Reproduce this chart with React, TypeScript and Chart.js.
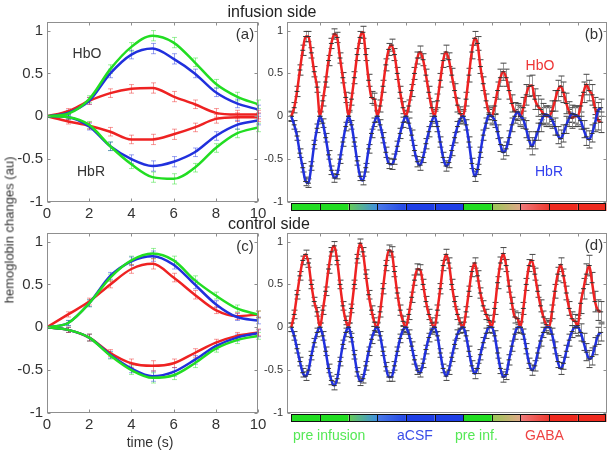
import React, { useEffect, useRef } from 'react';
import { Chart, registerables } from 'chart.js';
Chart.register(...registerables);

const FONT = '"Liberation Sans", Arial, Helvetica, sans-serif';

// ---------- panels (a) and (c): averaged responses, time 0..10 s ----------
const aTime = [0, 1, 2, 3, 4, 5, 6, 7, 8, 9, 10];
const aTicks = [0, 2, 4, 6, 8, 10];
const yTicks = [-1, -0.5, 0, 0.5, 1];

const aGreenO = [0, 0.03, 0.2, 0.55, 0.81, 0.94, 0.86, 0.63, 0.38, 0.23, 0.14];
const aBlueO = [0, 0.04, 0.18, 0.5, 0.72, 0.79, 0.67, 0.5, 0.28, 0.15, 0.08];
const aRedO = [0, 0.06, 0.18, 0.27, 0.32, 0.33, 0.23, 0.14, 0.04, 0.02, 0.02];
const aRedR = [0, -0.06, -0.11, -0.18, -0.27, -0.27, -0.21, -0.13, -0.03, -0.01, -0.01];
const aBlueR = [0, -0.01, -0.12, -0.35, -0.5, -0.58, -0.53, -0.42, -0.23, -0.1, -0.05];
const aGreenR = [0, -0.01, -0.1, -0.35, -0.56, -0.71, -0.73, -0.6, -0.37, -0.2, -0.13];
const aErr = [0, 0.03, 0.04, 0.05, 0.05, 0.06, 0.06, 0.05, 0.05, 0.05, 0.05];

const cGreenO = [0, 0.05, 0.28, 0.58, 0.78, 0.86, 0.78, 0.55, 0.37, 0.22, 0.15];
const cBlueO = [0, 0.05, 0.28, 0.6, 0.77, 0.83, 0.73, 0.5, 0.27, 0.12, 0.08];
const cRedO = [0, 0.15, 0.3, 0.5, 0.68, 0.74, 0.58, 0.38, 0.2, 0.13, 0.15];
const cRedR = [0, -0.03, -0.12, -0.3, -0.42, -0.45, -0.42, -0.3, -0.18, -0.1, -0.06];
const cBlueR = [0, -0.03, -0.12, -0.32, -0.48, -0.57, -0.52, -0.38, -0.22, -0.12, -0.07];
const cGreenR = [0, -0.03, -0.12, -0.33, -0.5, -0.59, -0.56, -0.42, -0.25, -0.15, -0.1];
const cErr = [0, 0.03, 0.04, 0.04, 0.05, 0.06, 0.05, 0.05, 0.04, 0.04, 0.04];

// ---------- panels (b) and (d): 11 consecutive trials, 1 sample / s ----------
const segEdges = [0, 10, 20, 30, 40, 50, 60, 70, 80, 90, 100, 110];
const segColorStart = ['#22dd22', '#22dd22', '#66cc55', '#4a7ae8', '#1e3fe6', '#1e3fe6', '#22dd22', '#99c855', '#ee7a7a', '#ee2a1e', '#ee2a1e'];
const segColorEnd = ['#22dd22', '#22dd22', '#3f8fe0', '#2448e6', '#1e3fe6', '#1e3fe6', '#22dd22', '#e0a888', '#ee3a30', '#ee2a1e', '#ee2a1e'];

const bHbO = [
  0, 0.1, 0.29, 0.54, 0.77, 0.93, 0.93, 0.74, 0.52, 0.34,
  0, 0.18, 0.4, 0.65, 0.85, 0.96, 0.92, 0.68, 0.45, 0.22,
  0, 0.2, 0.45, 0.72, 0.92, 0.98, 0.72, 0.42, 0.22, 0.2,
  0, 0.12, 0.35, 0.6, 0.78, 0.83, 0.72, 0.5, 0.28, 0.1,
  0, 0.12, 0.3, 0.5, 0.68, 0.75, 0.66, 0.48, 0.28, 0.1,
  0, 0.18, 0.42, 0.65, 0.75, 0.66, 0.48, 0.3, 0.13, 0.03,
  0, 0.2, 0.48, 0.75, 0.91, 0.85, 0.58, 0.38, 0.18, 0.04,
  0, 0.12, 0.3, 0.45, 0.52, 0.45, 0.3, 0.15, 0.06, 0.05,
  0, 0.1, 0.25, 0.35, 0.36, 0.2, 0.12, 0.08, 0.03, 0.0,
  0, 0.06, 0.18, 0.3, 0.35, 0.28, 0.15, 0.05, -0.02, 0.0,
  0, 0.12, 0.28, 0.37, 0.3, 0.25, 0.1, -0.04, -0.07,
];
const bHbR = [
  0, -0.1, -0.23, -0.43, -0.6, -0.76, -0.78, -0.58, -0.33, -0.14,
  0, -0.08, -0.25, -0.45, -0.63, -0.72, -0.68, -0.5, -0.3, -0.12,
  0, -0.1, -0.3, -0.52, -0.7, -0.75, -0.6, -0.38, -0.2, -0.07,
  0, -0.1, -0.25, -0.42, -0.55, -0.56, -0.5, -0.35, -0.2, -0.07,
  0, -0.08, -0.22, -0.4, -0.53, -0.57, -0.48, -0.32, -0.18, -0.06,
  0, -0.12, -0.3, -0.48, -0.58, -0.54, -0.4, -0.25, -0.12, -0.03,
  0, -0.1, -0.3, -0.55, -0.7, -0.62, -0.42, -0.22, -0.08, 0.02,
  0, -0.05, -0.18, -0.33, -0.42, -0.38, -0.25, -0.1, 0.0, 0.05,
  0, -0.04, -0.15, -0.28, -0.35, -0.28, -0.18, -0.08, 0.0, 0.02,
  0, -0.04, -0.12, -0.22, -0.26, -0.2, -0.1, -0.02, 0.03, 0.02,
  0, -0.05, -0.15, -0.24, -0.27, -0.2, -0.08, 0.06, 0.1,
];
const bErrO = [0.06, 0.06, 0.07, 0.07, 0.07, 0.08, 0.08, 0.1, 0.12, 0.12, 0.12];
const bErrR = [0.05, 0.05, 0.05, 0.06, 0.06, 0.06, 0.06, 0.08, 0.1, 0.1, 0.1];

const dHbO = [
  0, 0.15, 0.38, 0.6, 0.78, 0.85, 0.75, 0.5, 0.3, 0.18,
  0, 0.2, 0.42, 0.68, 0.88, 0.95, 0.78, 0.5, 0.25, 0.08,
  0, 0.22, 0.5, 0.8, 0.98, 0.88, 0.62, 0.38, 0.2, 0.06,
  0, 0.18, 0.45, 0.72, 0.9, 0.88, 0.65, 0.4, 0.2, 0.07,
  0, 0.15, 0.35, 0.55, 0.68, 0.67, 0.5, 0.3, 0.15, 0.05,
  0, 0.2, 0.45, 0.72, 0.85, 0.75, 0.5, 0.3, 0.15, 0.05,
  0, 0.18, 0.42, 0.65, 0.75, 0.6, 0.4, 0.25, 0.15, 0.08,
  0, 0.22, 0.52, 0.75, 0.86, 0.72, 0.48, 0.28, 0.12, 0.1,
  0, 0.22, 0.5, 0.72, 0.78, 0.62, 0.42, 0.25, 0.12, 0.03,
  0, 0.18, 0.42, 0.62, 0.73, 0.6, 0.4, 0.22, 0.1, 0.07,
  0.02, 0.28, 0.45, 0.62, 0.72, 0.52, 0.3, 0.2, 0.18,
];
const dHbR = [
  0, -0.1, -0.25, -0.4, -0.53, -0.57, -0.5, -0.33, -0.18, -0.06,
  0, -0.1, -0.28, -0.48, -0.62, -0.68, -0.6, -0.4, -0.2, -0.06,
  0, -0.12, -0.32, -0.52, -0.63, -0.6, -0.45, -0.28, -0.14, -0.04,
  0, -0.1, -0.28, -0.46, -0.58, -0.58, -0.45, -0.28, -0.13, -0.03,
  0, -0.08, -0.22, -0.38, -0.5, -0.53, -0.42, -0.26, -0.12, -0.03,
  0, -0.1, -0.3, -0.48, -0.57, -0.5, -0.35, -0.2, -0.08, -0.02,
  0, -0.1, -0.28, -0.45, -0.54, -0.48, -0.32, -0.18, -0.07, 0.0,
  0, -0.1, -0.3, -0.48, -0.58, -0.55, -0.38, -0.22, -0.08, 0.0,
  0, -0.08, -0.25, -0.42, -0.5, -0.45, -0.3, -0.16, -0.06, 0.0,
  0, -0.08, -0.24, -0.4, -0.48, -0.42, -0.28, -0.15, -0.05, 0.0,
  0, -0.06, -0.17, -0.29, -0.37, -0.34, -0.22, -0.1, -0.06,
];
const dErrO = [0.05, 0.05, 0.05, 0.06, 0.06, 0.06, 0.06, 0.07, 0.07, 0.08, 0.12];
const dErrR = [0.05, 0.05, 0.05, 0.05, 0.05, 0.05, 0.06, 0.06, 0.06, 0.07, 0.1];

const GREEN = '#22dd22';
const BLUE = '#2030dd';
const RED = '#ee2222';

// ---------- plugins ----------
const errorBarPlugin = {
  id: 'errBars',
  beforeDatasetsDraw(chart: any) {
    const ctx = chart.ctx;
    const ys = chart.scales.y;
    chart.data.datasets.forEach((ds: any, i: number) => {
      if (!ds.errors) return;
      const meta = chart.getDatasetMeta(i);
      ctx.save();
      ctx.lineWidth = 1;
      meta.data.forEach((pt: any, j: number) => {
        const e = ds.errors[j];
        if (!e) return;
        const v = ds.data[j].y;
        const x = Math.round(pt.x) + 0.5;
        const y1 = ys.getPixelForValue(v + e);
        const y2 = ys.getPixelForValue(v - e);
        ctx.strokeStyle = ds.errColor;
        ctx.beginPath();
        ctx.moveTo(x, y1);
        ctx.lineTo(x, y2);
        ctx.stroke();
        ctx.strokeStyle = ds.capColor;
        ctx.beginPath();
        ctx.moveTo(x - ds.capW, y1);
        ctx.lineTo(x + ds.capW, y1);
        ctx.moveTo(x - ds.capW, y2);
        ctx.lineTo(x + ds.capW, y2);
        ctx.stroke();
      });
      ctx.restore();
    });
  },
};

const makeFramePlugin = (p: { xTicks: number[]; xTickBottom: boolean; bar: boolean }) => ({
  id: 'frame',
  afterDatasetsDraw(chart: any) {
    const { ctx, chartArea: a, scales } = chart;
    const L = Math.round(a.left) + 0.5;
    const R = Math.round(a.right) - 0.5;
    const T = Math.round(a.top) + 0.5;
    const B = Math.round(a.bottom) - 0.5;
    ctx.save();
    ctx.strokeStyle = '#8f8f8f';
    ctx.lineWidth = 1;
    ctx.strokeRect(L, T, R - L, B - T);
    const tl = 3;
    ctx.beginPath();
    yTicks.forEach((v) => {
      const y = Math.round(scales.y.getPixelForValue(v)) + 0.5;
      ctx.moveTo(L, y);
      ctx.lineTo(L + tl, y);
      ctx.moveTo(R, y);
      ctx.lineTo(R - tl, y);
    });
    p.xTicks.forEach((v) => {
      const x = Math.round(scales.x.getPixelForValue(v)) + 0.5;
      ctx.moveTo(x, T);
      ctx.lineTo(x, T + tl);
      if (p.xTickBottom) {
        ctx.moveTo(x, B);
        ctx.lineTo(x, B - tl);
      }
    });
    ctx.stroke();
    if (p.bar) {
      const y0 = Math.round(a.bottom) + 1;
      const h = 8;
      for (let i = 0; i < segEdges.length - 1; i++) {
        const x0 = scales.x.getPixelForValue(segEdges[i]);
        const x1 = scales.x.getPixelForValue(segEdges[i + 1]);
        const g = ctx.createLinearGradient(x0, 0, x1, 0);
        g.addColorStop(0, segColorStart[i]);
        g.addColorStop(1, segColorEnd[i]);
        ctx.fillStyle = g;
        ctx.fillRect(x0, y0, x1 - x0, h);
      }
      ctx.strokeStyle = '#111';
      ctx.lineWidth = 1;
      const xs0 = Math.round(scales.x.getPixelForValue(segEdges[0])) + 0.5;
      const xs1 = Math.round(scales.x.getPixelForValue(segEdges[segEdges.length - 1])) - 0.5;
      ctx.strokeRect(xs0, y0 + 0.5, xs1 - xs0, h - 1);
      ctx.beginPath();
      segEdges.slice(1, -1).forEach((v) => {
        const x = Math.round(scales.x.getPixelForValue(v)) + 0.5;
        ctx.moveTo(x, y0);
        ctx.lineTo(x, y0 + h);
      });
      ctx.stroke();
    }
    ctx.restore();
  },
});

// ---------- config builders ----------
const pts = (xs: number[], ys: number[]) => ys.map((y, i) => ({ x: xs[i], y }));

const avgDataset = (ys: number[], color: string, errs: number[], errColor: string) => ({
  data: pts(aTime, ys),
  borderColor: color,
  borderWidth: 2.5,
  pointRadius: 0,
  fill: false,
  cubicInterpolationMode: 'monotone',
  errors: errs,
  errColor,
  capColor: errColor,
  capW: 2.5,
});

const seriesDataset = (ys: number[], color: string, segErr: number[]) => {
  const times = ys.map((_, i) => i);
  return {
    data: pts(times, ys),
    borderColor: color,
    borderWidth: 2.5,
    pointStyle: 'line',
    pointRadius: 2.5,
    pointBorderColor: '#333',
    pointBorderWidth: 1,
    fill: false,
    cubicInterpolationMode: 'monotone',
    errors: times.map((t) => segErr[Math.min(segErr.length - 1, Math.floor(t / 10))]),
    errColor: '#9a9a9a',
    capColor: '#444',
    capW: 3,
  };
};

const yAxis = (width: number, fontSize: number) => ({
  type: 'linear',
  min: -1,
  max: 1.1,
  grid: { display: false, drawTicks: false },
  border: { display: false },
  ticks: {
    stepSize: 0.5,
    includeBounds: false,
    color: '#333',
    padding: 4,
    font: { family: FONT, size: fontSize },
    callback: (v: any) => String(Math.round(Number(v) * 10) / 10),
  },
  afterFit: (s: any) => {
    s.width = width;
  },
});

const makeAvgConfig = (sets: any[]) => ({
  type: 'line',
  data: { datasets: sets },
  options: {
    responsive: false,
    animation: false,
    layout: { padding: { top: 22, right: 17, left: 0, bottom: 0 } },
    plugins: { legend: { display: false }, tooltip: { enabled: false } },
    scales: {
      x: {
        type: 'linear',
        min: 0,
        max: 10,
        grid: { display: false, drawTicks: false },
        border: { display: false },
        ticks: { stepSize: 2, color: '#333', padding: 3, maxRotation: 0, font: { family: FONT, size: 15 } },
        afterFit: (s: any) => {
          s.height = 20;
        },
      },
      y: yAxis(47, 15),
    },
  },
  plugins: [errorBarPlugin, makeFramePlugin({ xTicks: aTicks, xTickBottom: true, bar: false })],
});

const makeSeriesConfig = (o: number[], r: number[], eo: number[], er: number[]) => ({
  type: 'line',
  data: { datasets: [seriesDataset(r, BLUE, er), seriesDataset(o, RED, eo)] },
  options: {
    responsive: false,
    animation: false,
    layout: { padding: { top: 22, right: 7, left: 0, bottom: 0 } },
    plugins: { legend: { display: false }, tooltip: { enabled: false } },
    scales: {
      x: {
        type: 'linear',
        min: -1.5,
        max: 110.2,
        grid: { display: false, drawTicks: false },
        border: { display: false },
        ticks: { display: false },
        afterFit: (s: any) => {
          s.height = 20;
        },
      },
      y: yAxis(37, 11),
    },
  },
  plugins: [errorBarPlugin, makeFramePlugin({ xTicks: segEdges.slice(1, -1), xTickBottom: false, bar: true })],
});

const configA = () =>
  makeAvgConfig([
    avgDataset(aGreenO, GREEN, aErr, 'rgba(34,221,34,0.45)'),
    avgDataset(aGreenR, GREEN, aErr, 'rgba(34,221,34,0.45)'),
    avgDataset(aBlueO, BLUE, aErr, 'rgba(32,48,221,0.45)'),
    avgDataset(aBlueR, BLUE, aErr, 'rgba(32,48,221,0.45)'),
    avgDataset(aRedO, RED, aErr, 'rgba(238,34,34,0.45)'),
    avgDataset(aRedR, RED, aErr, 'rgba(238,34,34,0.45)'),
  ]);
const configC = () =>
  makeAvgConfig([
    avgDataset(cGreenO, GREEN, cErr, 'rgba(34,221,34,0.45)'),
    avgDataset(cGreenR, GREEN, cErr, 'rgba(34,221,34,0.45)'),
    avgDataset(cBlueO, BLUE, cErr, 'rgba(32,48,221,0.45)'),
    avgDataset(cBlueR, BLUE, cErr, 'rgba(32,48,221,0.45)'),
    avgDataset(cRedO, RED, cErr, 'rgba(238,34,34,0.45)'),
    avgDataset(cRedR, RED, cErr, 'rgba(238,34,34,0.45)'),
  ]);
const configB = () => makeSeriesConfig(bHbO, bHbR, bErrO, bErrR);
const configD = () => makeSeriesConfig(dHbO, dHbR, dErrO, dErrR);

function ChartCanvas(props: { make: () => any; left: number; top: number; width: number; height: number }) {
  const ref = useRef<HTMLCanvasElement>(null);
  useEffect(() => {
    const chart = new Chart(ref.current as HTMLCanvasElement, props.make());
    return () => chart.destroy();
  }, []);
  return (
    <canvas
      ref={ref}
      width={props.width}
      height={props.height}
      style={{ position: 'absolute', left: props.left, top: props.top, width: props.width, height: props.height }}
    />
  );
}

function Label(props: { text: string; x: number; y: number; size: number; color: string; rotate?: boolean; left?: boolean }) {
  const transform = props.left
    ? 'translate(0,-50%)'
    : `translate(-50%,-50%)${props.rotate ? ' rotate(-90deg)' : ''}`;
  return (
    <div
      style={{
        position: 'absolute',
        left: props.x,
        top: props.y,
        transform,
        fontFamily: FONT,
        fontSize: props.size,
        lineHeight: 1,
        color: props.color,
        whiteSpace: 'nowrap',
      }}
    >
      {props.text}
    </div>
  );
}

export default function App() {
  return (
    <div style={{ position: 'absolute', left: 0, top: 0, width: 614, height: 454, background: '#fff', overflow: 'hidden' }}>
      <ChartCanvas make={configA} left={0} top={0} width={275} height={222} />
      <ChartCanvas make={configC} left={0} top={211} width={275} height={222} />
      <ChartCanvas make={configB} left={250} top={0} width={364} height={222} />
      <ChartCanvas make={configD} left={250} top={211} width={364} height={222} />

      <Label text="infusion side" x={272} y={12} size={16} color="#222" />
      <Label text="control side" x={269} y={224} size={16} color="#222" />
      <Label text="hemoglobin changes (au)" x={9} y={230} size={13} color="#333" rotate />
      <Label text="time (s)" x={150} y={442} size={14} color="#333" />

      <Label text="HbO" x={87} y={53} size={14} color="#333" />
      <Label text="HbR" x={91} y={171} size={14} color="#333" />
      <Label text="(a)" x={245} y={33} size={15} color="#333" />
      <Label text="(c)" x={245} y={245} size={15} color="#333" />
      <Label text="(b)" x={594} y={33} size={15} color="#333" />
      <Label text="(d)" x={594} y={244} size={15} color="#333" />
      <Label text="HbO" x={540} y={65} size={14} color="#ee3333" />
      <Label text="HbR" x={549} y={171} size={14} color="#3340ee" />

      <Label text="pre infusion" x={293} y={435} size={14} color="#55e855" left />
      <Label text="aCSF" x={397} y={435} size={14} color="#3a4de8" left />
      <Label text="pre inf." x={455} y={435} size={14} color="#55e855" left />
      <Label text="GABA" x={525} y={435} size={14} color="#ee4444" left />
    </div>
  );
}
